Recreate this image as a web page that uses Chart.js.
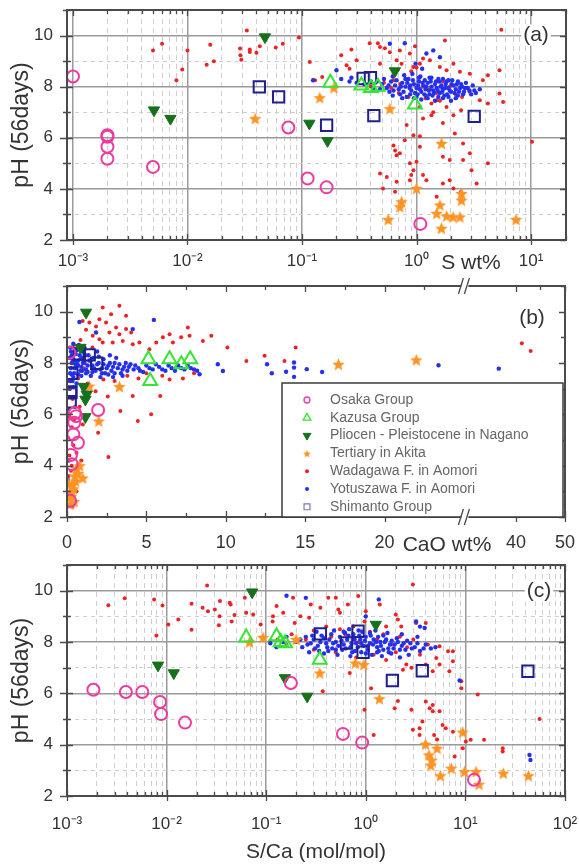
<!DOCTYPE html>
<html>
<head>
<meta charset="utf-8">
<script src="https://cdn.jsdelivr.net/npm/chart.js@4.4.1/dist/chart.umd.min.js"></script>
<style>
  body { margin: 0; background: #fff; }
  #wrap { position: relative; width: 579px; height: 865px; }
  canvas { position: absolute; left: 0; }
</style>
</head>
<body>
<div id="wrap">
  <canvas id="chartA" width="579" height="280" style="top:0px"></canvas>
  <canvas id="chartB" width="579" height="295" style="top:270px"></canvas>
  <canvas id="chartC" width="579" height="310" style="top:555px"></canvas>
</div>
<script>
"use strict"
// ---- values, [x, pH] pairs ----
// panel (a): S wt%
const osakaS = [[0.001,8.4],[0.002,6.1],[0.002,6.04],[0.002,5.65],[0.002,5.18],[0.005,4.86],[0.076,6.4],[0.112,4.41],[0.164,4.06],[1.08,2.63]];
const kazusaS = [[0.177,8.15],[0.33,8.05],[0.4,7.95],[0.46,8.0],[0.97,7.3]];
const naganoS = [[0.0051,7.08],[0.0071,6.75],[0.0475,9.94],[0.116,6.56],[0.167,5.88],[0.647,8.61]];
const akitaS = [[0.039,6.75],[0.143,7.57],[0.19,7.96],[0.585,7.14],[1.65,5.78],[1.0,4.02],[0.715,3.3],[0.74,3.5],[0.566,2.8],[1.5,3.04],[1.6,3.37],[1.65,2.46],[1.83,2.94],[2.09,2.9],[2.39,2.9],[2.47,3.56],[2.47,3.82],[7.4,2.8]];
const wadaS = [[0.005,9.42],[0.006,9.68],[0.008,8.25],[0.009,8.67],[0.01,9.42],[0.0147,8.86],[0.0158,9.64],[0.017,8.99],[0.0288,9.49],[0.029,9.23],[0.0295,9.05],[0.033,10.2],[0.035,9.45],[0.035,9.36],[0.04,9.33],[0.0428,9.58],[0.059,9.53],[0.068,9.68],[0.094,9.92],
  [5.5,10.23],[0.39,9.7],[0.46,9.7],[0.48,9.55],[0.27,9.45],[0.53,9.5],[0.585,9.35],[0.715,9.42],[0.97,9.58],[1.77,9.81],[0.117,8.97],[0.22,9.23],[0.245,8.84],[0.26,8.7],[0.3,9.03],[0.48,8.9],[0.67,9.03],[0.74,8.9],[1.14,9.1],[1.31,9.03],[1.6,8.77],[1.83,8.64],[2.1,8.9],[2.39,8.58],[2.92,8.51],[3.8,8.25],[4.2,8.45],[5.3,8.64],[5.3,7.73],[5.7,7.4],[0.15,8.38],[0.13,8.25],[0.94,8.77],[1.07,8.9],[0.875,9.3],
  [1.35,7.34],[1.5,7.47],[1.83,7.2],[1.35,6.88],[1.7,6.58],[2.1,6.88],[2.45,7.08],[4.2,7.34],[3.57,7.47],[0.82,6.5],[1.14,6.75],[0.79,5.9],[1.07,6.06],[1.07,5.65],[2.16,6.17],[2.55,5.78],[2.92,5.39],[4.2,5.0],[10.2,5.84],[0.67,5.32],[0.715,5.39],[1.0,5.06],[0.875,5.0],[0.94,4.73],[0.9,4.54],[0.875,4.34],[0.48,4.6],[0.55,4.47],[0.67,4.28],[0.51,4.02],[0.65,3.89],[1.14,4.54],[1.22,4.34],[1.7,4.21],[1.95,4.34],[2.1,4.02],[3.35,4.21],[2.45,3.89],[1.5,3.69],[1.7,5.26],[1.95,5.13],[2.55,5.13],[3.02,4.73],[0.94,6.1],[0.63,5.7],[0.65,5.5],
  [0.63,8.25],[0.72,8.1],[0.9,8.6],[1.0,8.75],[1.14,8.0],[1.31,7.9],[1.5,7.75],[1.7,8.2],[1.95,8.0],[2.2,7.7],[2.5,7.6],[2.9,7.8],[1.2,7.55],[1.6,7.45],[1.07,7.2],[1.4,7.0],[0.85,7.6],[0.7,7.75],[0.6,7.95],[0.52,8.15],[0.4,8.0]];
const yotuS = [[0.125,8.25],[0.2,8.64],[0.22,8.3],[0.26,8.2],[0.3,8.15],[0.35,8.1],[0.585,9.68],[0.79,9.7],[1.22,9.3],[1.4,9.42],[1.6,9.15],[3.57,7.9],[3.3,7.75],[0.27,8.35],[0.45,8.2],
  [0.5,8.1],[0.55,7.95],[0.6,8.2],[0.65,8.05],[0.7,7.9],[0.75,8.15],[0.8,8.0],[0.85,8.3],[0.9,7.85],[0.95,8.1],[1.0,7.95],[1.05,8.2],[1.1,7.8],[1.15,8.05],[1.2,7.9],[1.25,8.15],[1.3,7.7],[1.35,8.0],[1.4,7.85],[1.45,8.1],[1.5,7.95],[1.6,7.75],[1.65,8.05],[1.7,7.9],[1.8,8.1],[1.85,7.7],[1.9,7.95],[2.0,7.8],[2.1,8.05],[2.2,7.9],[2.3,7.65],[2.4,7.95],[2.6,7.8],[2.8,7.95],[3.0,7.7],[3.2,7.85],
  [0.72,7.7],[0.82,7.6],[0.95,7.55],[1.1,7.5],[1.25,7.55],[1.45,7.45],[1.7,7.55],[2.0,7.45],[0.62,8.4],[0.78,8.45],[0.92,8.5],[1.08,8.4],[1.3,8.35],[1.55,8.3],[1.9,8.25],[2.3,8.2],[2.7,8.15],[0.88,8.05],[1.02,7.7],[1.18,8.25],[1.38,7.65],[1.58,8.2],[1.75,7.65],[2.05,8.25],[2.5,8.0],[0.98,8.9],[1.12,8.7],[0.68,8.65],[0.58,7.8],[0.48,7.9],
  [0.4,8.2],[0.42,7.95],[0.52,8.3],[0.57,8.05],[0.63,7.85],[0.67,8.25],[0.73,8.0],[0.77,7.8],[0.83,8.15],[0.87,7.95],[0.93,8.25],[0.97,7.75],[1.03,8.05],[1.07,7.9],[1.13,8.15],[1.17,7.7],[1.22,8.0],[1.28,7.85],[1.33,8.2],[1.42,7.75],[1.48,8.2],[1.53,7.85],[1.62,8.0],[1.68,7.8],[1.78,7.95],[1.83,8.2],[1.95,7.85],[2.02,8.1],[2.15,7.75],[2.25,8.1],[2.35,7.8],[2.45,8.1],[2.55,7.7],[2.65,7.95],[2.9,7.85],[3.1,8.05],[0.88,7.7],[1.0,7.6],[1.2,7.65],[1.55,7.6],[1.9,7.6],[2.2,7.55],[0.75,7.55],[0.62,7.65],[1.35,8.35],[1.7,8.3],[1.05,8.35],[0.8,8.3]];
const shimaS = [[0.0424,7.99],[0.0625,7.6],[0.164,6.49],[0.342,8.32],[0.396,8.35],[0.424,6.87],[3.19,6.84]];

// panel (b): CaO wt%
const osakaCa = [[0.15,8.4],[0.57,5.93],[0.5,6.05],[0.46,5.67],[0.4,5.22],[0.69,4.89],[1.96,6.17],[0.25,4.42],[0.3,4.06],[0.2,2.63]];
const kazusaCa = [[5.13,8.15],[5.24,7.3],[6.46,8.15],[7.2,7.95],[7.76,8.15]];
const naganoCa = [[1.2,9.97],[1.24,6.78],[1.16,6.58],[1.16,5.9],[0.85,8.6],[1.05,7.08]];
const akitaCa = [[3.3,7.08],[2.0,5.74],[0.99,3.52],[1.4,7.1],[0.6,3.9],[0.5,3.6],[0.35,3.3],[0.3,3.0],[0.25,2.8],[0.2,2.5],[0.4,3.1],[0.15,2.9],[0.45,2.6],[0.55,3.4],[0.7,3.7],[0.8,4.0],[0.1,3.3],[17.1,7.95],[22.0,8.12]];
const wadaCa = [[2.25,10.16],[3.3,10.23],[2.78,9.9],[3.72,9.84],[2.04,9.7],[1.41,9.58],[1.83,9.42],[0.99,9.64],[2.46,9.58],[3.09,9.38],[3.72,9.32],[4.04,9.19],[2.67,9.19],[3.3,9.12],[1.62,9.06],[2.04,8.93],[2.25,8.8],[2.88,8.8],[3.51,8.86],[4.14,8.73],[4.56,8.8],[5.19,8.54],[5.62,8.8],[6.46,9.12],[6.04,9.0],[6.67,8.8],[7.19,9.0],[7.72,9.06],[7.61,9.38],[8.56,8.86],[9.09,9.06],[10.1,8.6],[11.3,8.08],[12.45,8.28],[13.7,8.08],[14.4,8.6],[41.2,8.77],[43.0,8.47],
  [2.57,6.69],[3.36,6.13],[4.46,5.74],[5.3,6.0],[5.87,6.71],[1.96,5.28],[2.61,4.34],[2.29,7.36],[6.46,7.36],[4.14,6.71],[3.0,7.3],[4.5,7.4],[5.0,7.6],[6.0,7.5],[7.3,7.4],[8.0,7.6],[3.8,7.5],
  [0.1,7.3],[0.2,7.0],[0.35,6.6],[0.5,6.3],[0.15,5.9],[0.3,5.5],[0.05,5.1],[0.4,4.8],[0.15,4.4],[0.3,4.0],[0.1,3.6],[0.5,3.3],[0.6,3.0],[0.2,2.7],[0.35,2.4],[0.7,7.4],[1.05,7.8],[1.3,7.2],[1.5,7.5],[1.8,6.9],[0.8,6.3],[1.0,5.6],[0.6,4.5],[0.85,8.9],[1.2,9.3],[1.6,8.6],[0.4,8.7],[0.9,4.2],[0.25,3.8],[0.45,5.8]];
const yotuCa = [[0.2,8.6],[0.4,8.75],[0.6,8.5],[0.3,8.3],[0.5,8.1],[0.8,8.3],[1.0,8.0],[0.25,7.8],[0.45,7.6],[0.7,7.9],[0.9,7.5],[1.2,7.75],[1.4,8.1],[0.35,7.3],[0.6,7.2],[0.15,7.0],[1.1,8.6],[0.75,8.7],
  [1.6,7.9],[1.8,7.7],[2.0,8.0],[2.2,7.8],[2.4,7.6],[2.6,7.9],[2.8,7.7],[3.0,8.0],[3.2,7.8],[3.4,7.6],[3.6,7.85],[3.8,7.7],[4.0,7.95],[4.2,7.75],[4.5,7.8],[4.8,7.65],[5.0,7.9],[5.4,7.75],[5.8,7.85],[6.2,7.7],[6.6,7.8],[7.0,7.9],[7.4,7.75],[7.8,7.8],[8.2,7.7],[8.35,7.56],[9.5,7.95],[9.82,7.69],[1.7,8.2],[2.3,8.15],[3.1,8.2],[2.1,7.45],[2.9,7.45],[1.5,7.5],[1.9,8.45],[2.7,8.3],
  [0.3,8.0],[0.5,7.8],[0.7,8.1],[0.9,7.85],[1.1,8.0],[1.3,7.9],[1.5,8.1],[1.7,7.8],[1.9,7.95],[2.1,7.75],[2.3,7.95],[2.5,7.8],[2.7,8.0],[2.9,7.85],[3.3,7.95],[3.5,7.75],[3.7,8.0],[3.9,7.85],[4.3,7.9],[4.6,7.7],[5.2,7.8],[5.6,7.95],[6.0,7.75],[6.4,7.9],[6.8,7.7],[7.2,7.8],[7.6,7.9],[8.0,7.75],[1.2,7.6],[1.6,7.65],[2.2,7.6],[2.6,7.55],[3.0,7.6],[3.5,7.5],[0.4,7.45],[0.55,7.95],[0.85,7.7],[1.0,8.2],[1.35,8.3],[2.0,8.25],[0.15,8.2],[0.2,7.6],
  [0.25,8.45],[0.35,8.15],[0.55,8.35],[0.65,7.95],[0.85,8.15],[0.95,7.7],[1.15,8.3],[1.3,7.65],[0.45,8.0],[0.3,7.55],[0.7,7.55],[1.0,8.45],[0.5,8.55],[0.2,7.3],[0.4,7.05],
  [0.78,9.6],[5.47,9.68],[4.14,9.32],[1.83,9.19],[12.6,7.95],[12.9,7.6],[13.8,7.66],[14.3,8.02],[14.3,7.82],[14.3,7.46],[15.1,7.76],[16.07,7.65],[23.4,7.91],[36.5,7.78],[0.04,3.46],[0.1,4.2],[0.05,6.2]];
const shimaCa = [[0.78,8.35],[1.4,8.32],[1.87,7.99],[0.3,7.6],[0.25,6.87],[0.22,6.84],[0.2,6.49]];

// panel (c): S/Ca mol/mol
const osakaR = [[0.00184,6.14],[0.0039,6.05],[0.0057,6.05],[0.0086,5.66],[0.0088,5.19],[0.0153,4.86],[0.177,6.4],[0.59,4.42],[0.92,4.08],[12.2,2.63]];
const kazusaR = [[0.063,8.18],[0.127,8.22],[0.14,8.0],[0.155,7.95],[0.345,7.31]];
const naganoR = [[0.0082,7.09],[0.0118,6.79],[0.0723,9.94],[0.154,6.6],[0.258,5.88],[1.26,8.68]];
const akitaR = [[0.345,6.79],[0.785,7.18],[0.955,7.12],[1.37,5.79],[3.98,4.02],[5.2,3.86],[4.3,3.6],[4.6,3.4],[4.5,3.2],[5.6,2.79],[7.2,3.08],[9.4,4.49],[9.8,2.95],[12.8,2.95],[13.7,2.46],[24,2.89],[42.9,2.79],[0.068,8.0],[0.093,8.18],[0.2,8.1]];
const wadaR = [[0.0026,9.43],[0.0038,9.7],[0.0075,9.66],[0.0091,9.42],[0.0079,8.25],[0.0104,8.68],[0.0131,8.88],[0.0178,9.49],[0.0178,8.48],[0.023,9.33],[0.0255,10.2],[0.026,9.2],[0.0305,9.27],[0.0343,9.6],[0.034,9.0],[0.0335,8.65],[0.043,9.53],[0.044,9.46],[0.045,8.8],[0.048,9.05],[0.061,9.72],[0.063,9.14],[0.074,9.07],[0.088,8.68],[0.117,9.0],[0.116,8.8],[0.127,9.4],[0.148,9.14],[0.186,9.72],[0.193,8.74],
  [2.97,10.24],[0.42,9.72],[0.5,9.72],[0.84,9.79],[0.28,9.46],[0.35,9.33],[0.66,9.46],[0.53,9.27],[0.55,9.14],[0.22,9.0],[0.27,8.94],[1.0,9.2],[0.97,8.8],[1.38,9.46],[2.0,9.07],[2.1,8.88],[1.6,8.6],[2.27,8.6],[3.2,8.74],[4.0,8.74],[5.5,7.83],[6.7,7.64],[7.5,7.64],[5.1,7.38],[5.5,7.12],[7.5,7.25],[6.9,6.86],[9.1,6.2],[9.1,6.47],[4.0,7.12],[4.7,6.86],[2.87,7.0],[2.55,7.12],[2.36,6.92],[0.69,6.79],[0.97,5.36],[1.13,6.2],[1.95,5.42],[1.2,4.38],[2.97,4.58],[3.7,4.9],[3.47,4.64],[4.38,5.42],[4.7,5.3],[5.5,5.3],[5.9,4.77],[6.35,4.64],[4.85,4.38],[5.2,4.2],[7.5,4.5],[9.4,3.86],[10.1,4.12],[11.3,4.19],[7.8,3.54],[13.3,5.95],[15.4,4.19],[23.7,3.86],[23.7,3.73],[55.5,5.0],[0.37,6.08],[3.47,4.38],[4.0,5.68],[4.7,5.55],[2.87,5.36],[2.1,5.7],
  [0.18,8.3],[0.25,8.1],[0.3,8.45],[0.4,8.6],[0.45,8.2],[0.55,8.5],[0.62,8.3],[0.75,8.6],[0.85,8.0],[1.1,8.4],[1.3,8.1],[1.5,8.3],[1.8,7.9],[2.2,8.2],[2.6,7.8],[3.0,8.1],[0.3,7.7],[0.5,7.6],[0.8,7.4],[1.2,7.5],[1.6,7.3],[2.0,7.6],[3.5,7.5],[4.2,7.9],[0.13,8.1],[0.16,7.9],[0.11,8.05]];
const yotuR = [[0.2,8.0],[0.23,7.8],[0.25,8.2],[0.28,7.95],[0.3,8.1],[0.33,7.85],[0.36,8.25],[0.4,7.95],[0.43,8.1],[0.46,7.75],[0.5,8.0],[0.55,8.2],[0.6,7.9],[0.65,8.1],[0.7,7.8],[0.75,8.3],[0.8,7.95],[0.88,8.1],[0.95,7.85],[1.0,8.2],[1.1,7.95],[1.2,8.1],[1.3,7.8],[1.4,8.0],[1.5,7.7],[1.6,8.1],[1.75,7.9],[1.9,7.75],[2.1,8.0],[2.3,7.85],[2.5,7.7],[2.8,7.95],[3.1,7.8],[3.5,7.65],[4.0,7.9],[4.5,7.75],[5.0,7.8],
  [0.27,7.6],[0.38,7.55],[0.52,7.5],[0.7,7.45],[0.9,7.6],[1.15,7.5],[1.45,7.45],[1.8,7.55],[2.2,7.4],[2.7,7.5],[0.32,8.4],[0.48,8.45],[0.68,8.5],[0.92,8.4],[1.25,8.45],[1.65,8.35],[2.3,8.3],[3.3,8.2],[0.58,7.7],[0.78,7.65],[1.05,7.7],[1.35,7.65],[0.42,7.65],[0.62,8.35],
  [0.22,8.1],[0.26,7.9],[0.29,8.25],[0.31,7.75],[0.35,8.0],[0.38,8.15],[0.41,7.8],[0.45,8.3],[0.47,7.95],[0.53,7.85],[0.57,8.05],[0.63,7.75],[0.67,8.25],[0.72,7.95],[0.77,8.1],[0.83,7.8],[0.86,8.25],[0.9,7.95],[0.98,8.05],[1.05,7.85],[1.12,8.25],[1.18,7.9],[1.27,8.0],[1.33,8.2],[1.42,7.85],[1.55,8.0],[1.68,7.75],[1.82,8.05],[1.95,7.9],[2.05,8.15],[2.2,7.7],[2.4,7.95],[2.6,8.05],[2.9,7.75],[3.3,7.95],[3.8,7.75],[0.34,7.65],[0.5,7.7],[0.73,7.6],[1.0,7.55],[1.3,7.6],[1.7,7.6],[0.6,8.4],[0.85,8.45],[1.1,8.35],[1.5,8.25],
  [0.25,9.72],[1.35,9.66],[3.2,8.8],[3.5,8.6],[3.9,8.55],[8.75,6.5],[44,3.6],[45,3.4],[0.16,8.2],[0.11,7.95],[0.127,7.8],[0.148,8.0],[0.16,9.8],[1.0,9.0]];
const shimaR = [[0.35,8.32],[0.836,8.42],[0.64,7.96],[0.94,7.6],[1.85,6.5],[3.69,6.88],[42.4,6.86]];

// axes / ticks
const phTicks = [2, 3, 4, 5, 6, 7, 8, 9, 10, 11];
const phLabels = [2, 4, 6, 8, 10];
const caoTicks = [0, 2.5, 5, 7.5, 10, 12.5, 15, 17.5, 20, 22.5, 40, 45, 50];
const caoLabels = [0, 5, 10, 15, 20, 40, 50];
const sRange = [0.000887, 20.2];
const ratioRange = [0.001, 100];

const FONT = '"Liberation Sans", Arial, sans-serif';
const FRAME = '#4a4a4a';
Chart.defaults.font.family = FONT;
Chart.defaults.color = '#333';

function starImage(size, color) {//filled 5 point star as point style
  const c = document.createElement("canvas");
  c.width = c.height = size;
  const g = c.getContext("2d");
  const R = size / 2, r = R * 0.45;
  g.beginPath();
  for (let i = 0; i < 10; i++) {
    const rad = i % 2 ? r : R, ang = -Math.PI / 2 + i * Math.PI / 5;
    g.lineTo(R + rad * Math.cos(ang), R + rad * 1.02 * Math.sin(ang) + 0.6);
  }
  g.closePath();
  g.fillStyle = color;
  g.fill();
  return c;
}

// blue is drawn over red (lower order = on top)
const SERIES = [
  { label: "Osaka Group", style: "circle", r: 6, color: "#f0399f", filled: false, bw: 2, order: 1, lr: 3, lbw: 1.3 },
  { label: "Kazusa Group", style: "triangle", r: 8, color: "#33e633", filled: false, bw: 2, order: 2, lr: 4.5, lbw: 1.3 },
  { label: "Pliocen - Pleistocene in Nagano", style: "triangle", rot: 180, r: 6.5, color: "#17701c", filled: true, bw: 1, order: 3, lr: 4.5, lbw: 1 },
  { label: "Tertiary in Akita", style: starImage(13, "#ff9424"), lstyle: starImage(8, "#ff9424"), r: 6, color: "#ff9424", filled: true, bw: 0, order: 5, lr: 4, lbw: 0 },
  { label: "Wadagawa F. in Aomori", style: "circle", r: 2, color: "#ee2222", filled: true, bw: 0, order: 7, lr: 2, lbw: 0 },
  { label: "Yotuszawa F. in Aomori", style: "circle", r: 2.2, color: "#2430ee", filled: true, bw: 0, order: 6, lr: 2, lbw: 0 },
  { label: "Shimanto Group", style: "rect", r: 8, color: "#1f1f8f", lcolor: "#7a7ab8", filled: false, bw: 2, order: 4, lr: 4.2, lbw: 1.2 }
];

function buildSets(panel) {
  return SERIES.map((s, i) => ({
    label: s.label,
    data: panel[i].map(p => ({ x: p[0], y: p[1] })),
    pointStyle: s.style,
    pointRotation: s.rot || 0,
    pointRadius: s.r,
    pointHoverRadius: s.r,
    pointBorderWidth: s.bw,
    pointBorderColor: s.color,
    pointBackgroundColor: s.filled ? s.color : "rgba(0,0,0,0)",
    order: s.order
  }));
}

// ---- helpers for axes ----
const SUP = { "-": "\u207B", "0": "\u2070", "1": "\u00B9", "2": "\u00B2", "3": "\u00B3" };
function isDecade(v) {
  const l = Math.log10(v);
  return Math.abs(l - Math.round(l)) < 1e-6;
}
function pow10Label(v) {
  const e = String(Math.round(Math.log10(v)));
  return "10" + e.split("").map(ch => SUP[ch]).join("");
}
function logTicks(lo, hi, max) {
  const t = [];
  for (let e = lo; e <= hi; e++)
    for (let m = 1; m <= 9; m++) {
      const v = +(m * Math.pow(10, e)).toPrecision(6);
      if (v <= max * 1.0001) t.push({ value: v });
    }
  return t;
}

const MAJOR_GRID = "#9a9a9a", MINOR_GRID = "#cfcfcf";

function logAxis(range, hiExp, height, pad, title) {
  const ax = {
    type: "logarithmic", min: range[0], max: range[1],
    afterFit: s => { s.height = height; s.paddingLeft = 0; s.paddingRight = 0; },
    afterBuildTicks: s => { s.ticks = logTicks(-3, hiExp, range[1]); },
    ticks: { padding: pad, autoSkip: false, maxRotation: 0, font: { size: 17 }, color: "#333",
      callback: v => isDecade(v) ? pow10Label(v) : "" },
    grid: { drawTicks: false,
      color: c => c.tick ? (isDecade(c.tick.value) ? MAJOR_GRID : MINOR_GRID) : MINOR_GRID,
      lineWidth: c => c.tick && isDecade(c.tick.value) ? 1.5 : 1 },
    border: { display: false, dash: c => c.tick && isDecade(c.tick.value) ? [] : [5, 4] }
  };
  if (title) ax.title = { display: true, text: title, font: { size: 21 }, color: "#333", padding: { top: 0, bottom: 0 } };
  return ax;
}

function phAxis(withGrid) {
  return {
    type: "linear", min: 2, max: 11,
    afterFit: s => { s.width = 67; s.paddingTop = 0; s.paddingBottom = 0; },
    afterBuildTicks: s => { s.ticks = phTicks.map(v => ({ value: v })); },
    ticks: { padding: 14, autoSkip: false, font: { size: 17 }, color: "#333",
      callback: v => phLabels.includes(v) ? String(v) : "" },
    grid: { display: withGrid, drawTicks: false,
      color: c => {
        const v = c.tick ? c.tick.value : 2;
        if (v <= 2 || v >= 11) return "rgba(0,0,0,0)";
        return v % 2 === 0 ? MAJOR_GRID : MINOR_GRID;
      },
      lineWidth: c => c.tick && c.tick.value % 2 === 0 ? 1.5 : 1 },
    border: { display: false, dash: c => c.tick && c.tick.value % 2 === 1 ? [4, 4] : [] },
    title: { display: true, text: "pH (56days)", font: { size: 23 }, color: "#333", padding: { top: 8, bottom: 0 } }
  };
}

// linear axis with a gap between 25 and 30 (CaO wt%)
const BREAK_LO = 25, BREAK_HI = 30, CAO_MAX = 50, FRAC_LO = 0.797, FRAC_HI = 0.803;
class BrokenAxis extends Chart.LinearScale {
  static id = "brokenLinear";
  static defaults = {};
  getPixelForValue(v) {
    let d;
    if (v <= BREAK_LO) d = v / BREAK_LO * FRAC_LO;
    else if (v < BREAK_HI) d = FRAC_LO + (v - BREAK_LO) / (BREAK_HI - BREAK_LO) * (FRAC_HI - FRAC_LO);
    else d = FRAC_HI + (v - BREAK_HI) / (CAO_MAX - BREAK_HI) * (1 - FRAC_HI);
    return this.getPixelForDecimal(d);
  }
  getValueForPixel(p) {
    const d = this.getDecimalForPixel(p);
    if (d <= FRAC_LO) return d / FRAC_LO * BREAK_LO;
    if (d < FRAC_HI) return BREAK_LO + (d - FRAC_LO) / (FRAC_HI - FRAC_LO) * (BREAK_HI - BREAK_LO);
    return BREAK_HI + (d - FRAC_HI) / (1 - FRAC_HI) * (CAO_MAX - BREAK_HI);
  }
}
Chart.register(BrokenAxis);

// ---- drawing extras: frame, inward ticks, legend, labels ----
function drawFrame(chart, majorX) {
  const { ctx, chartArea: a, scales: { x, y } } = chart;
  ctx.save();
  ctx.strokeStyle = FRAME;
  ctx.lineWidth = 1.3;
  ctx.beginPath();
  x.ticks.forEach(t => {
    const px = Math.round(x.getPixelForValue(t.value)) + 0.5;
    const big = majorX(t.value), len = big ? 6 : 4;
    ctx.moveTo(px, a.top); ctx.lineTo(px, a.top + len);
    ctx.moveTo(px, a.bottom + (big ? 5 : 0)); ctx.lineTo(px, a.bottom - len);
  });
  y.ticks.forEach(t => {
    const py = Math.round(y.getPixelForValue(t.value)) + 0.5;
    const big = t.value % 2 === 0, len = big ? 6 : 4;
    ctx.moveTo(a.left - (big ? 7 : 4), py); ctx.lineTo(a.left + len, py);
    ctx.moveTo(a.right, py); ctx.lineTo(a.right - len, py);
  });
  ctx.stroke();
  ctx.lineWidth = 2;
  ctx.strokeRect(a.left, a.top, a.right - a.left, a.bottom - a.top);
  ctx.restore();
}

function drawBreak(chart, v) {
  const { ctx, chartArea: a, scales: { x } } = chart;
  const px = x.getPixelForValue(v);
  ctx.save();
  [a.top, a.bottom].forEach(py => {
    ctx.fillStyle = "#fff";
    ctx.fillRect(px - 4, py - 2, 7, 4);
    ctx.strokeStyle = FRAME;
    ctx.lineWidth = 1.3;
    ctx.beginPath();
    ctx.moveTo(px - 7, py + 8); ctx.lineTo(px - 2, py - 8);
    ctx.moveTo(px - 1, py + 8); ctx.lineTo(px + 4, py - 8);
    ctx.stroke();
  });
  ctx.restore();
}

const LEGEND_BOX = { left: 282, top: 113, right: 563, bottom: 247 };
function drawLegend(chart) {
  const ctx = chart.ctx, b = LEGEND_BOX;
  ctx.save();
  ctx.fillStyle = "#fff";
  ctx.fillRect(b.left, b.top, b.right - b.left, b.bottom - b.top);
  ctx.strokeStyle = "#3a3a3a";
  ctx.lineWidth = 1.5;
  ctx.strokeRect(b.left, b.top, b.right - b.left, b.bottom - b.top);
  ctx.font = "14px " + FONT;
  ctx.textBaseline = "middle";
  SERIES.forEach((s, i) => {
    const y = b.top + 17 + i * 17.8;
    const col = s.lcolor || s.color;
    ctx.fillStyle = s.filled ? col : "rgba(0,0,0,0)";
    ctx.strokeStyle = col;
    ctx.lineWidth = s.lbw;
    Chart.helpers.drawPoint(ctx, { pointStyle: s.lstyle || s.style, rotation: s.rot || 0, radius: s.lr, borderWidth: s.lbw }, b.left + 25, y);
    ctx.fillStyle = "#666";
    ctx.fillText(s.label, b.left + 48, y);
  });
  ctx.restore();
}

function drawTexts(chart, texts) {
  const ctx = chart.ctx;
  ctx.save();
  ctx.textAlign = "center";
  ctx.textBaseline = "middle";
  texts.forEach(t => {
    ctx.font = t.size + "px " + FONT;
    if (t.bg) {
      const w = ctx.measureText(t.text).width;
      ctx.fillStyle = "#fff";
      ctx.fillRect(t.x - w / 2 - 2, t.y - t.size / 2, w + 4, t.size);
    }
    ctx.fillStyle = "#333";
    ctx.fillText(t.text, t.x, t.y);
  });
  ctx.restore();
}

function decor(opts) {
  return {
    id: "decor",
    afterDatasetsDraw(chart) {
      drawFrame(chart, opts.majorX);
      if (opts.legend) drawLegend(chart);
      if (opts.breakAt !== undefined) drawBreak(chart, opts.breakAt);
    },
    afterDraw(chart) { drawTexts(chart, opts.texts); }
  };
}

function makeChart(id, datasets, xAxis, padding, extra) {
  return new Chart(document.getElementById(id), {
    type: "scatter",
    data: { datasets: datasets },
    options: {
      responsive: false,
      animation: false,
      events: [],
      layout: { padding: padding },
      plugins: { legend: { display: false }, tooltip: { enabled: false } },
      scales: { x: xAxis, y: phAxis(extra.grid) }
    },
    plugins: [decor(extra)]
  });
}

// (a) S wt%
makeChart("chartA",
  buildSets([osakaS, kazusaS, naganoS, akitaS, wadaS, yotuS, shimaS]),
  logAxis(sRange, 1, 40, 11),
  { top: 9, right: 13, bottom: 0, left: 0 },
  { grid: true, majorX: isDecade,
    texts: [{ text: "(a)", x: 536, y: 35, size: 21, bg: true }, { text: "S wt%", x: 471, y: 263, size: 21 }] });

// (b) CaO wt% with broken axis
makeChart("chartB",
  buildSets([osakaCa, kazusaCa, naganoCa, akitaCa, wadaCa, yotuCa, shimaCa]),
  {
    type: "brokenLinear", min: 0, max: CAO_MAX,
    afterFit: s => { s.height = 48; s.paddingLeft = 0; s.paddingRight = 0; },
    afterBuildTicks: s => { s.ticks = caoTicks.map(v => ({ value: v })); },
    ticks: { padding: 15, autoSkip: false, maxRotation: 0, font: { size: 18 }, color: "#333",
      callback: v => caoLabels.includes(v) ? String(v) : "" },
    grid: { display: false, drawTicks: false },
    border: { display: false }
  },
  { top: 16, right: 14, bottom: 0, left: 0 },
  { grid: false, legend: true, breakAt: 27.5, majorX: v => caoLabels.includes(v),
    texts: [{ text: "(b)", x: 532, y: 48, size: 21 }, { text: "CaO wt%", x: 447, y: 275, size: 21 }] });

// (c) S/Ca mol/mol
makeChart("chartC",
  buildSets([osakaR, kazusaR, naganoR, akitaR, wadaR, yotuR, shimaR]),
  logAxis(ratioRange, 2, 69, 18, "S/Ca (mol/mol)"),
  { top: 10, right: 14, bottom: 0, left: 0 },
  { grid: true, majorX: isDecade,
    texts: [{ text: "(c)", x: 539, y: 36, size: 21, bg: true }] });
</script>
</body>
</html>
